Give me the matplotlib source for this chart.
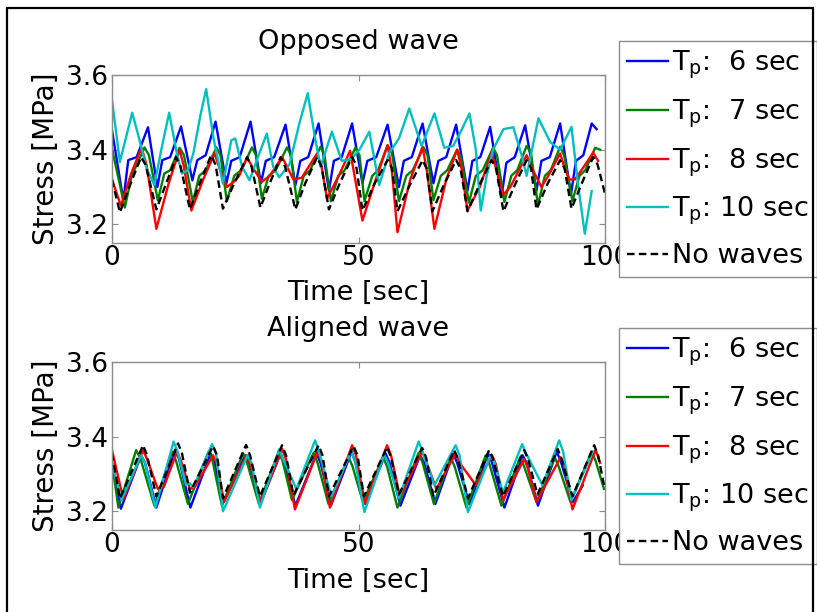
import matplotlib
matplotlib.use('Agg')
import matplotlib.pyplot as plt
from matplotlib.patches import Rectangle

plt.rcParams['font.family'] = ['DejaVu Sans']
plt.rcParams['mathtext.fontset'] = 'dejavusans'

# ── Opposed wave (top panel) ─────────────────────────────────────────────────
opp_t_6 = [0, 2.3, 3.3, 5.0, 7.3, 9.2, 10.2, 11.8, 14.0, 16.3, 17.3, 19.0, 21.0, 23.2, 24.2, 25.9,
           28.1, 30.2, 31.2, 32.9, 35.2, 37.2, 38.2, 39.8, 41.9, 44.0, 45.0, 46.6, 48.7, 50.8, 51.8,
           53.6, 55.9, 58.2, 59.2, 60.8, 63.0, 65.2, 66.2, 67.8, 69.8, 72.1, 73.1, 74.7, 76.7, 79.0,
           80.0, 81.7, 83.8, 86.1, 87.1, 88.8, 90.9, 93.1, 94.1, 95.6, 97.3, 98.3]
opp_v_6 = [3.452, 3.264, 3.372, 3.38, 3.46, 3.30, 3.372, 3.38, 3.462, 3.318, 3.372, 3.385, 3.475,
           3.31, 3.37, 3.38, 3.475, 3.31, 3.37, 3.38, 3.467, 3.305, 3.37, 3.38, 3.47, 3.29, 3.37,
           3.38, 3.47, 3.31, 3.37, 3.38, 3.467, 3.30, 3.37, 3.38, 3.47, 3.31, 3.37, 3.38, 3.467,
           3.29, 3.37, 3.38, 3.461, 3.273, 3.365, 3.38, 3.465, 3.29, 3.37, 3.38, 3.47, 3.28, 3.37,
           3.385, 3.47, 3.455]

opp_t_7 = [0, 2.6, 4.0, 6.6, 7.5, 9.3, 10.6, 11.8, 13.7, 14.6, 16.4, 17.7, 19.0, 21.2, 22.0, 23.3,
           24.8, 26.2, 28.4, 29.2, 30.4, 31.8, 33.2, 35.5, 36.3, 37.5, 38.9, 40.2, 42.3, 43.1, 44.4,
           45.9, 47.2, 49.4, 50.2, 51.2, 52.8, 54.0, 55.9, 56.8, 58.2, 59.7, 61.0, 63.2, 64.0, 65.2,
           66.7, 68.0, 70.0, 70.8, 72.4, 73.8, 75.2, 77.3, 78.1, 79.6, 81.0, 82.2, 84.1, 85.0, 86.4,
           87.8, 89.0, 90.9, 91.7, 93.4, 94.8, 96.0, 98.0, 99.0]
opp_v_7 = [3.403, 3.245, 3.33, 3.406, 3.385, 3.264, 3.336, 3.345, 3.405, 3.385, 3.26, 3.33, 3.345,
           3.406, 3.385, 3.262, 3.33, 3.345, 3.406, 3.385, 3.269, 3.33, 3.345, 3.406, 3.385, 3.26,
           3.33, 3.345, 3.408, 3.385, 3.262, 3.33, 3.345, 3.406, 3.385, 3.262, 3.33, 3.345, 3.412,
           3.39, 3.262, 3.33, 3.345, 3.406, 3.385, 3.265, 3.33, 3.345, 3.40, 3.38, 3.258, 3.33,
           3.345, 3.405, 3.385, 3.26, 3.33, 3.345, 3.41, 3.39, 3.251, 3.33, 3.345, 3.408, 3.385,
           3.262, 3.33, 3.345, 3.405, 3.40]

opp_t_8 = [0, 1.8, 4.0, 6.0, 7.0, 9.0, 11.5, 13.7, 14.5, 16.1, 18.5, 20.8, 21.8, 23.3, 24.8, 25.8,
           27.4, 28.4, 30.4, 32.0, 34.5, 35.5, 36.8, 38.5, 41.6, 42.5, 43.6, 46.0, 48.3, 49.2, 50.8,
           53.5, 55.9, 56.8, 57.9, 60.5, 63.0, 63.9, 65.4, 67.8, 70.0, 70.9, 72.1, 74.6, 77.0, 77.9,
           79.4, 80.8, 84.1, 85.0, 87.1, 88.5, 90.9, 91.8, 92.8, 93.9, 96.0, 97.6, 98.6]
opp_v_8 = [3.32, 3.25, 3.34, 3.405, 3.36, 3.188, 3.31, 3.399, 3.36, 3.237, 3.32, 3.39, 3.35, 3.30,
           3.315, 3.33, 3.379, 3.355, 3.314, 3.33, 3.38, 3.355, 3.32, 3.325, 3.39, 3.355, 3.269,
           3.33, 3.397, 3.33, 3.21, 3.32, 3.412, 3.34, 3.179, 3.32, 3.408, 3.34, 3.188, 3.32, 3.40,
           3.35, 3.237, 3.30, 3.392, 3.35, 3.28, 3.30, 3.385, 3.355, 3.30, 3.33, 3.39, 3.35, 3.32,
           3.32, 3.36, 3.392, 3.37]

opp_t_10 = [0, 1.6, 4.1, 5.5, 7.0, 8.6, 10.0, 11.6, 13.0, 14.2, 15.4, 16.5, 17.9, 19.1, 20.6, 22.5,
            24.2, 25.0, 26.4, 27.9, 29.6, 31.4, 32.7, 33.9, 36.0, 38.0, 39.7, 41.2, 42.3, 44.6, 46.6,
            48.5, 50.2, 52.2, 54.2, 56.2, 58.2, 60.3, 62.8, 65.4, 67.4, 69.2, 70.8, 72.5, 73.8, 74.8,
            76.0, 77.3, 79.4, 81.4, 83.2, 84.1, 86.5, 88.9, 90.9, 93.2, 94.6, 95.9, 97.3]
opp_v_10 = [3.533, 3.367, 3.499, 3.43, 3.35, 3.305, 3.40, 3.499, 3.40, 3.336, 3.345, 3.39, 3.49,
            3.562, 3.43, 3.309, 3.425, 3.43, 3.354, 3.318, 3.38, 3.443, 3.354, 3.326, 3.36, 3.47,
            3.551, 3.43, 3.354, 3.448, 3.37, 3.375, 3.40, 3.448, 3.305, 3.39, 3.43, 3.51, 3.41,
            3.497, 3.405, 3.41, 3.45, 3.497, 3.40, 3.237, 3.33, 3.40, 3.455, 3.46, 3.38, 3.33,
            3.484, 3.42, 3.40, 3.461, 3.30, 3.175, 3.289]

opp_t_nw = [0, 1.6, 3.5, 5.9, 6.8, 9.0, 11.0, 13.0, 13.9, 15.8, 17.8, 20.1, 21.0, 22.5, 24.8, 27.4,
            28.3, 30.1, 32.0, 34.2, 35.1, 37.2, 39.2, 41.6, 42.5, 44.0, 46.2, 48.7, 49.5, 50.8, 53.3,
            55.9, 56.8, 57.9, 60.4, 63.0, 63.8, 65.0, 67.3, 69.8, 70.7, 72.1, 74.5, 77.0, 77.9, 79.4,
            81.7, 84.1, 85.0, 86.1, 88.4, 90.9, 91.8, 93.2, 95.3, 97.6, 98.5, 100]
opp_v_nw = [3.32, 3.232, 3.30, 3.38, 3.36, 3.24, 3.31, 3.38, 3.355, 3.24, 3.31, 3.385, 3.36, 3.242,
            3.31, 3.38, 3.355, 3.245, 3.31, 3.38, 3.355, 3.24, 3.31, 3.38, 3.355, 3.24, 3.31, 3.38,
            3.36, 3.237, 3.31, 3.372, 3.35, 3.235, 3.305, 3.372, 3.35, 3.235, 3.305, 3.372, 3.35,
            3.235, 3.305, 3.372, 3.35, 3.235, 3.305, 3.372, 3.35, 3.24, 3.31, 3.372, 3.35, 3.242,
            3.31, 3.38, 3.36, 3.282]

# ── Aligned wave (bottom panel) ──────────────────────────────────────────────
ali_t_6 = [0, 1.8, 5.9, 6.7, 9.0, 12.8, 13.6, 15.9, 20.0, 20.8, 22.7, 27.0, 27.8, 30.1, 34.2, 35.0,
           37.2, 41.5, 42.3, 44.4, 48.6, 49.4, 51.4, 55.5, 56.3, 58.5, 62.5, 63.3, 65.6, 69.2, 70.0,
           72.5, 76.3, 77.1, 79.6, 83.3, 84.1, 86.4, 90.2, 91.0, 93.5, 95.5]
ali_v_6 = [3.33, 3.207, 3.35, 3.33, 3.21, 3.365, 3.34, 3.21, 3.355, 3.33, 3.225, 3.35, 3.33, 3.22,
           3.355, 3.33, 3.215, 3.355, 3.33, 3.215, 3.36, 3.33, 3.22, 3.355, 3.33, 3.215, 3.35, 3.33,
           3.22, 3.355, 3.33, 3.22, 3.355, 3.33, 3.21, 3.35, 3.33, 3.215, 3.36, 3.335, 3.225, 3.27]

ali_t_7 = [0, 1.3, 4.9, 5.8, 8.6, 12.2, 13.0, 15.4, 19.6, 20.4, 22.3, 26.6, 27.4, 29.8, 33.8, 34.6,
           36.5, 40.9, 41.7, 43.9, 48.0, 48.8, 50.9, 55.0, 55.8, 57.9, 62.2, 63.0, 65.3, 68.7, 69.5,
           71.9, 75.8, 76.6, 79.0, 82.8, 83.6, 86.1, 89.8, 90.6, 93.0, 97.3, 98.1, 99.8]
ali_v_7 = [3.33, 3.21, 3.364, 3.34, 3.215, 3.36, 3.335, 3.22, 3.36, 3.335, 3.215, 3.355, 3.33, 3.22,
           3.36, 3.335, 3.23, 3.357, 3.33, 3.22, 3.345, 3.32, 3.225, 3.345, 3.32, 3.21, 3.357, 3.33,
           3.22, 3.345, 3.32, 3.21, 3.35, 3.325, 3.215, 3.345, 3.32, 3.225, 3.345, 3.32, 3.225,
           3.36, 3.335, 3.26]

ali_t_8 = [0, 2.3, 6.3, 7.1, 9.3, 10.5, 13.2, 14.0, 15.8, 16.8, 20.5, 21.3, 22.7, 27.3, 28.1, 30.2,
           34.5, 35.3, 37.1, 41.7, 42.5, 44.2, 48.7, 49.5, 51.3, 55.8, 56.6, 58.4, 62.9, 63.7, 65.8,
           69.7, 70.5, 73.8, 77.1, 77.9, 79.3, 83.6, 84.4, 86.1, 91.0, 91.8, 93.4, 98.1, 99.0]
ali_v_8 = [3.364, 3.232, 3.364, 3.34, 3.26, 3.265, 3.36, 3.335, 3.26, 3.265, 3.35, 3.325, 3.225,
           3.35, 3.325, 3.225, 3.367, 3.34, 3.205, 3.36, 3.335, 3.21, 3.377, 3.35, 3.22, 3.377,
           3.35, 3.24, 3.36, 3.335, 3.26, 3.355, 3.33, 3.27, 3.35, 3.325, 3.23, 3.34, 3.315, 3.225,
           3.345, 3.32, 3.205, 3.365, 3.33]

ali_t_10 = [0, 1.9, 5.9, 6.7, 8.8, 12.5, 13.3, 15.0, 15.8, 16.5, 20.3, 21.1, 22.5, 27.5, 28.3, 30.0,
            33.9, 34.7, 37.4, 41.2, 42.0, 44.5, 48.5, 49.3, 51.2, 55.2, 56.0, 58.2, 62.2, 63.0, 65.4,
            69.7, 70.5, 72.2, 76.8, 77.6, 79.3, 83.2, 84.0, 87.3, 90.7, 91.5, 93.2, 97.5]
ali_v_10 = [3.33, 3.23, 3.35, 3.33, 3.21, 3.387, 3.36, 3.27, 3.275, 3.265, 3.38, 3.355, 3.20, 3.35,
            3.33, 3.21, 3.366, 3.34, 3.26, 3.39, 3.36, 3.24, 3.36, 3.335, 3.198, 3.352, 3.33, 3.235,
            3.387, 3.36, 3.27, 3.377, 3.35, 3.198, 3.35, 3.33, 3.25, 3.38, 3.355, 3.27, 3.39, 3.36,
            3.23, 3.36]

ali_t_nw = [0, 1.6, 6.3, 7.1, 9.0, 13.4, 14.2, 15.8, 20.5, 21.3, 22.5, 27.2, 28.0, 30.0, 34.5, 35.3,
            36.8, 41.9, 42.7, 44.0, 49.0, 49.8, 51.1, 55.8, 56.6, 58.2, 62.9, 63.7, 65.2, 69.4, 70.2,
            72.2, 76.5, 77.3, 79.3, 83.6, 84.4, 86.3, 90.4, 91.2, 93.4, 97.8, 98.6, 99.8]
ali_v_nw = [3.355, 3.234, 3.377, 3.35, 3.24, 3.382, 3.355, 3.25, 3.375, 3.35, 3.235, 3.378, 3.35,
            3.24, 3.377, 3.35, 3.243, 3.377, 3.35, 3.24, 3.375, 3.35, 3.24, 3.372, 3.345, 3.245,
            3.37, 3.345, 3.24, 3.364, 3.34, 3.235, 3.364, 3.34, 3.24, 3.364, 3.34, 3.245, 3.367,
            3.34, 3.24, 3.377, 3.35, 3.27]

LABELS = [r'T$_\mathregular{p}$:  6 sec', r'T$_\mathregular{p}$:  7 sec',
          r'T$_\mathregular{p}$:  8 sec', r'T$_\mathregular{p}$: 10 sec', 'No waves']
COLORS = ['#0000FF', '#008000', '#FF0000', '#00BFBF', 'black']

panels = [
    ('Opposed wave', [(opp_t_6, opp_v_6), (opp_t_7, opp_v_7), (opp_t_8, opp_v_8),
                      (opp_t_10, opp_v_10), (opp_t_nw, opp_v_nw)]),
    ('Aligned wave', [(ali_t_6, ali_v_6), (ali_t_7, ali_v_7), (ali_t_8, ali_v_8),
                      (ali_t_10, ali_v_10), (ali_t_nw, ali_v_nw)]),
]

W, H = 817, 612
FS = 19.5
fig = plt.figure(figsize=(W / 100, H / 100), dpi=100)

# pixel layout: (axes top, title y, xlabel y, legend top)
layout = [(75, 42, 293, 41), (362, 329, 581, 328)]
ax_left, ax_right, ax_h = 112, 605, 168

for (title, series), (top, ty, xly, lg_top) in zip(panels, layout):
    ax = fig.add_axes([ax_left / W, 1 - (top + ax_h) / H, (ax_right - ax_left) / W, ax_h / H])
    for (t, v), c, lab in zip(series, COLORS, LABELS):
        ls = '--' if lab == 'No waves' else '-'
        kw = dict(dashes=(3.2, 1.8)) if ls == '--' else {}
        ax.plot(t, v, color=c, lw=1.7, ls=ls, label=lab, **kw)
    ax.set_xlim(0, 100)
    ax.set_ylim(3.15, 3.6)
    ax.set_xticks([0, 50, 100])
    ax.set_yticks([3.2, 3.4, 3.6])
    ax.set_yticklabels(['3.2', '3.4', '3.6'])
    for s in ax.spines.values():
        s.set_color('#8c8c8c')
        s.set_linewidth(1.0)
    ax.tick_params(direction='in', length=4, color='#8c8c8c', labelsize=19,
                   top=True, right=True, labelcolor='black')
    ax.tick_params(axis='x', pad=1.5)
    ax.tick_params(axis='y', pad=3.0)

    fig.text((ax_left + ax_right) / 2 / W, 1 - ty / H, title, ha='center', va='center', fontsize=FS)
    fig.text((ax_left + ax_right) / 2 / W, 1 - xly / H, 'Time [sec]', ha='center', va='center',
             fontsize=FS)
    fig.text(46 / W, 1 - (top + ax_h / 2) / H, 'Stress [MPa]', rotation=90, ha='center',
             va='center', fontsize=20)

    leg = ax.legend(loc='upper left', bbox_to_anchor=(619 / W, 1 - lg_top / H),
                    bbox_transform=fig.transFigure, borderaxespad=0, fontsize=FS,
                    handlelength=1.5, handletextpad=0.15, labelspacing=0.6, borderpad=0.3,
                    fancybox=False, framealpha=1, edgecolor='#8c8c8c')
    leg.get_frame().set_linewidth(1.0)

# outer frame (bottom edge runs off the image)
fig.patches.append(Rectangle((6.5 / W, -0.05), (813 - 6.5) / W, 1.05 - 7.5 / H,
                             transform=fig.transFigure, fill=False, edgecolor='black', lw=1.6))

fig.savefig('out.png', dpi=100, facecolor='white')
